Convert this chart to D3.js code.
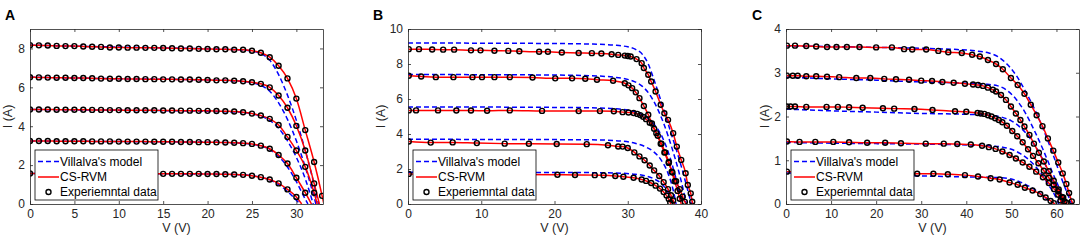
<!DOCTYPE html>
<html>
<head>
<meta charset="utf-8">
<script src="https://cdn.jsdelivr.net/npm/d3@7"></script>
<style>
  body { margin: 0; background: #fff; }
  svg { display: block; font-family: "Liberation Sans", Arial, Helvetica, sans-serif; }
</style>
</head>
<body>
<div id="wrapper"></div>
<script>
// ---- DATA ----
const panelLetters = ["A", "B", "C"]
const xMaxes = [33, 40, 65]
const yMaxes = [9, 10, 4]
const xTickValues = [[0, 5, 10, 15, 20, 25, 30], [0, 10, 20, 30, 40], [0, 10, 20, 30, 40, 50, 60]]
const yTickValues = [[0, 2, 4, 6, 8], [0, 2, 4, 6, 8, 10], [0, 1, 2, 3, 4]]
const legendLabels = ["Villalva's model", "CS-RVM", "Experiemntal data"]

// experimental points [V, I], panel A
const expA1 = [[0,8.17],[1,8.16],[2,8.15],[3,8.13],[4,8.12],[5,8.12],[6,8.10],[7,8.09],[8,8.08],[9,8.05],[10,8.05],[11,8.04],[12,8.04],[13,8.03],[14,8.03],[15,8.02],[16,8.01],[17,8.00],[18,8.00],[19,7.98],[20,7.97],[21,7.96],[22,7.96],[23,7.93],[24,7.93],[25,7.88],[26,7.78],[27,7.55],[28,7.11],[29,6.46],[30,5.42],[31,3.80],[32,2.16],[32.9,0.42]]
const expA2 = [[0,6.52],[1,6.51],[2,6.50],[3,6.49],[4,6.49],[5,6.48],[6,6.48],[7,6.47],[8,6.45],[9,6.44],[10,6.44],[11,6.43],[12,6.43],[13,6.42],[14,6.42],[15,6.41],[16,6.41],[17,6.40],[18,6.40],[19,6.39],[20,6.38],[21,6.36],[22,6.36],[23,6.34],[24,6.31],[25,6.26],[26,6.18],[27,6.00],[28,5.58],[29,4.95],[30,4.02],[31,2.75],[32,1.06]]
const expA3 = [[0,4.86],[1,4.86],[2,4.86],[3,4.85],[4,4.85],[5,4.85],[6,4.85],[7,4.84],[8,4.84],[9,4.83],[10,4.83],[11,4.82],[12,4.82],[13,4.82],[14,4.82],[15,4.81],[16,4.81],[17,4.80],[18,4.80],[19,4.79],[20,4.79],[21,4.78],[22,4.77],[23,4.76],[24,4.72],[25,4.65],[26,4.55],[27,4.38],[28,4.06],[29,3.45],[30,2.75],[31,1.91],[32,0.58]]
const expA4 = [[0,3.24],[1,3.24],[2,3.24],[3,3.23],[4,3.23],[5,3.23],[6,3.23],[7,3.22],[8,3.22],[9,3.22],[10,3.21],[11,3.21],[12,3.21],[13,3.21],[14,3.20],[15,3.20],[16,3.20],[17,3.19],[18,3.19],[19,3.18],[20,3.18],[21,3.17],[22,3.16],[23,3.15],[24,3.13],[25,3.09],[26,3.00],[27,2.84],[28,2.52],[29,2.08],[30,1.35],[31,0.58]]
const expA5 = [[0,1.57],[1,1.57],[2,1.57],[3,1.57],[4,1.57],[5,1.57],[6,1.57],[7,1.56],[8,1.56],[9,1.56],[10,1.56],[11,1.56],[12,1.56],[13,1.55],[14,1.55],[15,1.55],[16,1.55],[17,1.55],[18,1.55],[19,1.55],[20,1.54],[21,1.54],[22,1.53],[23,1.52],[24,1.50],[25,1.45],[26,1.38],[27,1.26],[28,1.06],[29,0.75],[30,0.36]]

// panel B
const expB1 = [[0.1,8.85],[1.5,8.85],[3.3,8.83],[4.8,8.82],[6.3,8.82],[8.6,8.78],[9.9,8.78],[11.8,8.76],[13.7,8.75],[15.2,8.73],[17.9,8.70],[19.1,8.70],[21.0,8.66],[23.3,8.63],[25.1,8.62],[26.4,8.60],[27.8,8.56],[28.7,8.52],[29.6,8.48],[30.0,8.46],[30.4,8.43],[31.2,8.28],[31.9,8.05],[32.2,7.77],[32.8,7.39],[33.2,7.00],[33.8,6.43],[34.5,5.67],[35.0,5.19],[35.5,4.81],[36.2,4.05],[36.7,3.28],[37.3,2.52],[37.9,1.76],[38.2,1.09],[38.6,0.61],[38.8,0.13]]
const expB2 = [[0.1,7.33],[1.8,7.29],[3.8,7.25],[6.2,7.25],[8.8,7.25],[10.1,7.25],[11.8,7.25],[13.9,7.25],[17.0,7.23],[20.1,7.18],[22.4,7.18],[24.2,7.16],[25.8,7.10],[28.0,7.04],[29.6,6.90],[30.1,6.78],[30.6,6.62],[31.1,6.38],[31.6,6.05],[32.2,5.60],[32.8,5.10],[33.3,4.60],[33.9,4.05],[34.5,3.45],[35.0,2.95],[35.6,2.35],[36.1,1.80],[36.6,1.30],[37.1,0.85],[37.5,0.42],[37.8,0.12]]
const expB3 = [[0.1,5.35],[1.1,5.35],[4.1,5.35],[6.6,5.34],[8.6,5.34],[10.8,5.33],[13.9,5.35],[18.3,5.32],[23.3,5.31],[26.2,5.31],[28.1,5.30],[29.3,5.25],[30.1,5.23],[30.8,5.20],[31.3,5.15],[31.7,5.08],[32.1,4.98],[32.5,4.85],[33.0,4.65],[33.6,4.30],[34.1,3.90],[34.6,3.45],[35.1,2.95],[35.6,2.40],[36.0,1.85],[36.4,1.30],[36.8,0.75],[37.1,0.30]]
const expB4 = [[0.1,3.57],[3.1,3.51],[6.1,3.52],[9.4,3.48],[13.2,3.45],[16.5,3.44],[20.3,3.43],[24.4,3.42],[27.3,3.36],[28.7,3.29],[29.3,3.28],[30.0,3.20],[30.9,2.95],[31.6,2.72],[32.3,2.50],[33.0,2.20],[33.6,1.92],[34.3,1.60],[34.9,1.25],[35.5,0.85],[35.9,0.50],[36.2,0.20]]
const expB5 = [[0.1,1.72],[20.4,1.67],[22.8,1.66],[25.5,1.65],[26.7,1.64],[28.3,1.60],[29.4,1.56],[30.8,1.50],[31.9,1.40],[32.5,1.32],[33.2,1.20],[33.8,1.05],[34.4,0.88],[34.9,0.68],[35.3,0.48],[35.6,0.28],[35.8,0.08]]

// panel C
const expC1 = [[0.2,3.62],[2.0,3.62],[4.5,3.61],[6.7,3.60],[9.1,3.59],[11.2,3.59],[13.5,3.59],[16.3,3.59],[20.0,3.58],[23.5,3.58],[26.2,3.54],[28.0,3.53],[31.1,3.53],[33.8,3.50],[36.0,3.47],[39.0,3.45],[41.3,3.41],[43.0,3.37],[44.8,3.29],[46.6,3.20],[48.1,3.08],[49.9,2.88],[51.4,2.72],[52.9,2.52],[54.3,2.27],[55.6,2.03],[56.9,1.78],[58.1,1.50],[59.3,1.22],[60.4,0.95],[61.4,0.70],[62.2,0.46],[62.8,0.25],[63.4,0.06]]
const expC2 = [[0.2,2.93],[1.5,2.93],[2.6,2.93],[4.5,2.92],[6.7,2.92],[9.1,2.91],[11.8,2.90],[15.6,2.88],[18.7,2.88],[21.8,2.86],[24.4,2.85],[27.3,2.84],[30.0,2.82],[32.4,2.81],[34.7,2.79],[37.2,2.77],[39.7,2.75],[41.5,2.73],[42.6,2.72],[43.7,2.70],[44.8,2.66],[45.9,2.61],[46.6,2.57],[47.7,2.49],[48.8,2.38],[49.9,2.23],[51.0,2.07],[52.0,1.92],[52.9,1.77],[54.0,1.58],[55.0,1.38],[56.1,1.17],[57.2,0.97],[58.3,0.75],[59.4,0.53],[60.5,0.33],[61.5,0.15],[62.2,0.03]]
const expC3 = [[0.2,2.23],[1.0,2.23],[2.0,2.23],[4.5,2.22],[9.0,2.22],[11.5,2.22],[14.0,2.21],[17.0,2.20],[21.5,2.19],[24.0,2.18],[28.5,2.17],[32.5,2.15],[37.5,2.12],[40.0,2.11],[42.5,2.08],[43.2,2.07],[44.0,2.06],[44.8,2.03],[45.6,2.00],[46.4,1.96],[47.2,1.92],[48.0,1.87],[49.0,1.79],[50.2,1.67],[51.3,1.55],[52.5,1.41],[53.7,1.25],[54.8,1.10],[56.0,0.93],[57.2,0.76],[58.3,0.60],[59.4,0.44],[60.4,0.29],[61.2,0.16],[61.8,0.06]]
const expC4 = [[0.2,1.43],[3.0,1.42],[6.5,1.42],[10.5,1.42],[14.0,1.41],[18.0,1.40],[22.0,1.40],[25.5,1.39],[31.0,1.38],[35.0,1.38],[38.0,1.37],[41.0,1.36],[43.5,1.33],[45.0,1.30],[46.5,1.26],[48.0,1.20],[49.6,1.12],[51.0,1.04],[52.5,0.95],[54.0,0.85],[55.5,0.74],[57.0,0.61],[58.3,0.48],[59.5,0.34],[60.4,0.21],[60.9,0.08]]
const expC5 = [[0.2,0.74],[29.1,0.69],[32.7,0.69],[35.9,0.68],[39.7,0.66],[42.6,0.63],[45.4,0.59],[47.4,0.56],[49.6,0.49],[51.4,0.44],[53.0,0.37],[54.7,0.31],[56.4,0.23],[57.6,0.15],[58.7,0.07],[59.4,0.02]]

// open-circuit voltage where the CS-RVM curve meets I = 0
const vocA = [33.1, 32.6, 32.35, 31.7, 30.6]
const vocB = [38.9, 38.0, 37.3, 36.4, 35.9]
const vocC = [63.7, 62.4, 62.0, 61.2, 59.6]

// Villalva's model curves [V, I]
const villA1 = [[0,8.17],[10,8.07],[20,7.98],[24,7.92],[25,7.86],[26,7.74],[27,7.40],[28,6.65],[29,5.60],[30,4.30],[31,2.75],[32,1.00],[32.5,0]]
const villA2 = [[0,6.52],[10,6.44],[20,6.38],[24,6.30],[25,6.24],[26,6.10],[27,5.80],[28,5.20],[29,4.35],[30,3.25],[31,1.90],[32,0.35],[32.2,0]]
const villA3 = [[0,4.86],[10,4.82],[20,4.77],[24,4.71],[25,4.65],[26,4.52],[27,4.30],[28,3.90],[29,3.25],[30,2.40],[31,1.30],[31.9,0]]
const villA4 = [[0,3.24],[10,3.21],[20,3.18],[24,3.12],[25,3.07],[26,2.98],[27,2.80],[28,2.45],[29,1.90],[30,1.15],[31,0.25],[31.3,0]]
const villA5 = [[0,1.57],[10,1.56],[20,1.54],[24,1.50],[25,1.46],[26,1.38],[27,1.24],[28,1.00],[29,0.65],[30,0.20],[30.4,0]]

const villB1 = [[0,9.20],[10,9.19],[20,9.17],[25,9.14],[28,9.08],[30,8.98],[31,8.85],[32,8.55],[32.8,8.00],[33.5,7.20],[34.3,6.20],[35.2,5.00],[36.1,3.80],[37,2.60],[37.8,1.40],[38.5,0.30],[38.7,0]]
const villB2 = [[0,7.40],[10,7.39],[20,7.37],[25,7.33],[28,7.25],[30,7.12],[31,6.98],[32,6.72],[33,6.25],[34,5.50],[35,4.50],[36,3.25],[37,1.80],[37.8,0.40],[38,0]]
const villB3 = [[0,5.55],[10,5.54],[20,5.52],[25,5.50],[28,5.45],[30,5.37],[31.5,5.20],[32.5,4.98],[33.5,4.60],[34.5,4.00],[35.5,3.00],[36.3,1.90],[37,0.70],[37.3,0]]
const villB4 = [[0,3.70],[10,3.69],[20,3.68],[26,3.66],[29,3.60],[31,3.47],[32.5,3.25],[33.5,3.00],[34.5,2.55],[35.5,1.75],[36.2,0.80],[36.6,0]]
const villB5 = [[0,1.82],[10,1.81],[20,1.80],[26,1.79],[29,1.76],[31,1.70],[32.5,1.60],[33.5,1.45],[34.5,1.20],[35.3,0.80],[35.9,0.30],[36.1,0]]

const villC1 = [[0,3.61],[10,3.60],[20,3.58],[30,3.56],[38,3.53],[42,3.50],[45,3.45],[47,3.37],[49,3.20],[51,2.95],[53,2.60],[55,2.20],[57,1.73],[59,1.20],[61,0.62],[62.5,0.22],[63.4,0]]
const villC2 = [[0,2.90],[10,2.86],[20,2.83],[30,2.79],[40,2.76],[44,2.74],[47,2.70],[49,2.60],[51,2.40],[53,2.10],[55,1.70],[57,1.25],[59,0.75],[61,0.25],[61.8,0]]
const villC3 = [[0,2.17],[10,2.13],[20,2.10],[30,2.07],[40,2.05],[45,2.03],[48,1.98],[50,1.90],[52,1.75],[54,1.52],[56,1.20],[58,0.80],[60,0.35],[61.2,0]]
const villC4 = [[0,1.41],[10,1.39],[20,1.38],[30,1.37],[40,1.35],[45,1.33],[48,1.30],[50,1.25],[52,1.15],[54,1.00],[56,0.78],[58,0.48],[60,0.12],[60.5,0]]
const villC5 = [[0,0.71],[10,0.68],[20,0.66],[30,0.64],[40,0.62],[45,0.61],[48,0.60],[50,0.57],[52,0.50],[54,0.40],[56,0.27],[58,0.10],[59,0]]

const expSets = [[expA1, expA2, expA3, expA4, expA5], [expB1, expB2, expB3, expB4, expB5], [expC1, expC2, expC3, expC4, expC5]]
const vocSets = [vocA, vocB, vocC]
const villSets = [[villA1, villA2, villA3, villA4, villA5], [villB1, villB2, villB3, villB4, villB5], [villC1, villC2, villC3, villC4, villC5]]

// ---- LAYOUT ----
const width = 1084, height = 248
const plotLefts = [30, 408, 786]
const plotTop = 29
const plotW = 293, plotH = 175
const yLabelOffsets = [18, 23, 17]
const letterOffsets = [25, 35, 34]
const axisColor = "#262626"
const fmt = d3.format("~g")

const svg = d3.select("#wrapper").append("svg")
  .attr("width", width)
  .attr("height", height)

panelLetters.forEach((letter, p) => {
  const left = plotLefts[p]
  const x = d3.scaleLinear().domain([0, xMaxes[p]]).range([0, plotW])
  const y = d3.scaleLinear().domain([0, yMaxes[p]]).range([plotH, 0])

  const g = svg.append("g").attr("transform", `translate(${left},${plotTop})`)

  // clip so curves stay inside the box
  g.append("clipPath").attr("id", `clip${p}`)
    .append("rect").attr("width", plotW).attr("height", plotH)

  const lineGen = d3.line()
    .x(d => x(d[0])).y(d => y(d[1]))
    .curve(d3.curveMonotoneX)

  const curves = g.append("g").attr("clip-path", `url(#clip${p})`)

  // Villalva's model (blue dashed)
  villSets[p].forEach(c => {
    curves.append("path")
      .attr("d", lineGen(c))
      .attr("fill", "none")
      .attr("stroke", "#0000ff")
      .attr("stroke-width", 1.5)
      .attr("stroke-dasharray", "5,3")
  })

  // CS-RVM (red) through the data down to Voc
  expSets[p].forEach((c, k) => {
    curves.append("path")
      .attr("d", lineGen(c.concat([[vocSets[p][k], 0]])))
      .attr("fill", "none")
      .attr("stroke", "#ff0000")
      .attr("stroke-width", 1.5)
  })

  // experimental markers
  expSets[p].forEach(c => {
    curves.selectAll(null)
      .data(c)
      .join("circle")
      .attr("cx", d => x(d[0]))
      .attr("cy", d => y(d[1]))
      .attr("r", 2.5)
      .attr("fill", "none")
      .attr("stroke", "#000")
      .attr("stroke-width", 1.4)
  })

  // axes, ticks pointing inward on all four sides
  const styleAxis = sel => {
    sel.selectAll(".domain").attr("stroke", axisColor).attr("stroke-width", 0.8)
    sel.selectAll(".tick line").attr("stroke", axisColor).attr("stroke-width", 0.8)
    sel.selectAll(".tick text").attr("fill", axisColor).style("font-size", "12px")
      .style("font-family", "'Liberation Sans', Arial, sans-serif")
  }
  g.append("g").attr("transform", `translate(0,${plotH})`)
    .call(d3.axisBottom(x).tickValues(xTickValues[p]).tickFormat(fmt).tickSizeInner(-3).tickSizeOuter(0).tickPadding(5))
    .call(styleAxis)
  g.append("g")
    .call(d3.axisTop(x).tickValues(xTickValues[p]).tickSizeInner(-3).tickSizeOuter(0).tickFormat(""))
    .call(styleAxis)
  g.append("g")
    .call(d3.axisLeft(y).tickValues(yTickValues[p]).tickFormat(fmt).tickSizeInner(-3).tickSizeOuter(0).tickPadding(5))
    .call(styleAxis)
  g.append("g").attr("transform", `translate(${plotW},0)`)
    .call(d3.axisRight(y).tickValues(yTickValues[p]).tickSizeInner(-3).tickSizeOuter(0).tickFormat(""))
    .call(styleAxis)

  // axis labels
  g.append("text")
    .attr("x", plotW / 2).attr("y", plotH + 28)
    .attr("text-anchor", "middle")
    .attr("fill", axisColor)
    .style("font-size", "12.5px")
    .text("V (V)")
  g.append("text")
    .attr("transform", `translate(${-yLabelOffsets[p]},${plotH / 2}) rotate(-90)`)
    .attr("text-anchor", "middle")
    .attr("fill", axisColor)
    .style("font-size", "12.5px")
    .text("I (A)")

  // panel letter
  svg.append("text")
    .attr("x", left - letterOffsets[p]).attr("y", 19.5)
    .style("font-size", "14px")
    .style("font-weight", "bold")
    .text(letter)

  // legend
  const lg = g.append("g").attr("transform", `translate(5,${plotH - 54})`)
  lg.append("rect")
    .attr("width", 123).attr("height", 50)
    .attr("fill", "#fff")
    .attr("stroke", "#000")
    .attr("stroke-width", 0.8)
  const rowY = [11.5, 27, 42]
  legendLabels.forEach((label, i) => {
    const row = lg.append("g").attr("transform", `translate(0,${rowY[i]})`)
    if (i === 0) {
      row.append("line").attr("x1", 3).attr("x2", 24)
        .attr("stroke", "#0000ff").attr("stroke-width", 1.5).attr("stroke-dasharray", "5,3")
    } else if (i === 1) {
      row.append("line").attr("x1", 3).attr("x2", 24)
        .attr("stroke", "#ff0000").attr("stroke-width", 1.5)
    } else {
      row.append("circle").attr("cx", 13.5).attr("r", 2.5)
        .attr("fill", "none").attr("stroke", "#000").attr("stroke-width", 1.4)
    }
    row.append("text")
      .attr("x", 25).attr("y", 4.2)
      .style("font-size", "12px")
      .attr("fill", "#000")
      .text(label)
  })
})
</script>
</body>
</html>
